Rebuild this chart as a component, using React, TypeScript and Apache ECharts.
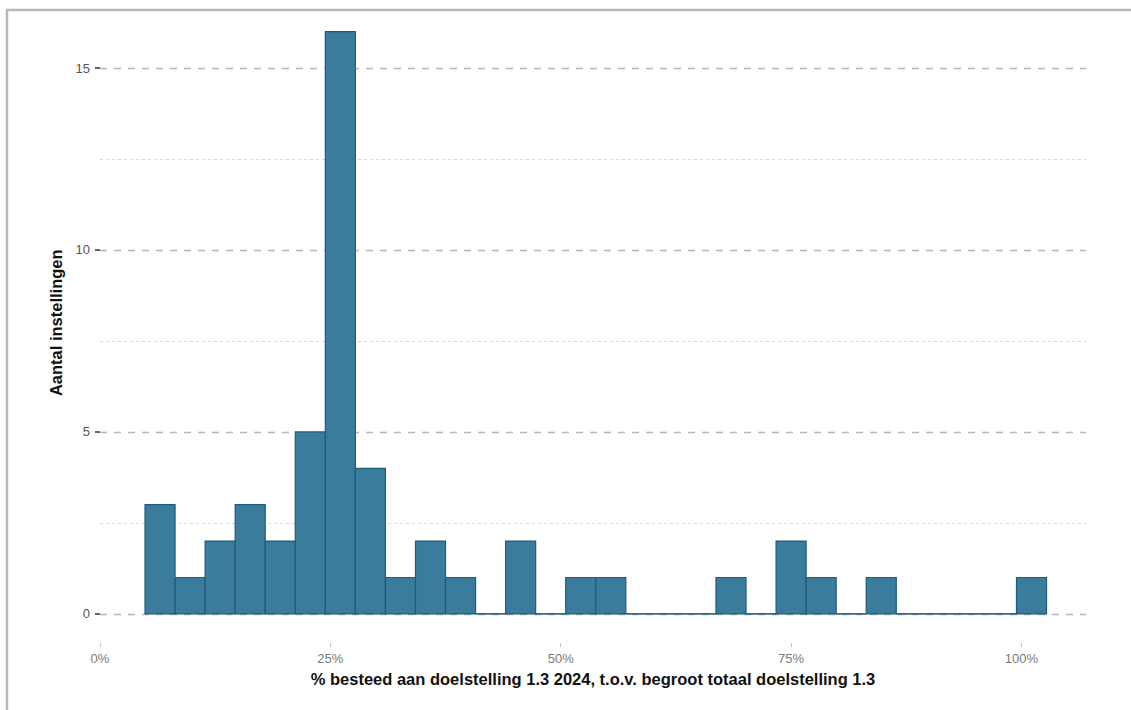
import React, { useEffect, useRef } from "react";
import * as echarts from "echarts";

// Histogram bins (percent spent), 30 bins
const binStart = 4.886;
const binWidth = 3.261;
const counts = [3, 1, 2, 3, 2, 5, 16, 4, 1, 2, 1, 0, 2, 0, 1, 1, 0, 0, 0, 1, 0, 2, 1, 0, 1, 0, 0, 0, 0, 1];
const xTicks = [0, 25, 50, 75, 100];
const yTicks = [0, 5, 10, 15];
const yMinorGrid = [2.5, 7.5, 12.5];
const xTitle = "% besteed aan doelstelling 1.3 2024, t.o.v. begroot totaal doelstelling 1.3";
const yTitle = "Aantal instellingen";

const FILL = "#3b7c9c";
const EDGE = "#1f5c7a";
const FONT = "Liberation Sans, Arial, sans-serif";

export default function App() {
  const ref = useRef<HTMLDivElement>(null);
  useEffect(() => {
    if (!ref.current) return;
    const chart = echarts.init(ref.current, undefined, { renderer: "svg" });
    const data = counts.map((c, i) => [binStart + i * binWidth, binStart + (i + 1) * binWidth, c]);
    chart.setOption({
      animation: false,
      backgroundColor: "#ffffff",
      textStyle: { fontFamily: FONT },
      grid: { left: 100, right: 45, top: 2.5, bottom: 67, containLabel: false },
      xAxis: {
        type: "value",
        min: 0,
        max: 107,
        interval: 25,
        name: xTitle,
        nameLocation: "middle",
        nameGap: 27,
        nameTextStyle: { fontFamily: FONT, fontSize: 16.5, fontWeight: "bold", color: "#111" },
        axisLine: { show: false, onZero: false },
        axisTick: { show: true, customValues: xTicks, length: 4, lineStyle: { color: "#c4c4c4", width: 1 } },
        axisLabel: {
          customValues: xTicks,
          formatter: (v: number) => `${v}%`,
          color: "#7a7a7a",
          fontSize: 13,
          margin: 9,
          fontFamily: FONT,
        },
        splitLine: { show: false },
      },
      yAxis: {
        type: "value",
        min: -0.8,
        max: 16.8,
        name: yTitle,
        nameLocation: "middle",
        nameGap: 26,
        nameTextStyle: { fontFamily: FONT, fontSize: 16.5, fontWeight: "bold", color: "#111" },
        axisLine: { show: false },
        axisTick: { show: true, customValues: yTicks, length: 5, lineStyle: { color: "#333", width: 1.5 } },
        axisLabel: { customValues: yTicks, color: "#555", fontSize: 13, margin: 10, fontFamily: FONT },
        splitLine: { show: false },
      },
      series: [
        {
          type: "line",
          data: [],
          z: 0,
          zlevel: 0,
          silent: true,
          markLine: {
            silent: true,
            symbol: "none",
            z: 0,
            label: { show: false },
            data: [
              ...yTicks.map((v) => ({ yAxis: v, lineStyle: { color: "#b5b5b5", width: 1.3, type: [7, 7] } })),
              ...yMinorGrid.map((v) => ({ yAxis: v, lineStyle: { color: "#d6d6d6", width: 1, type: [3, 3] } })),
            ],
          },
        },
        {
          type: "custom",
          z: 10,
          zlevel: 0,
          data,
          encode: { x: [0, 1], y: 2 },
          renderItem: (params: any, api: any) => {
            const x0 = api.value(0);
            const x1 = api.value(1);
            const c = api.value(2);
            const p0 = api.coord([x0, c]);
            const p1 = api.coord([x1, 0]);
            if (c === 0) {
              return {
                type: "line",
                z2: 10,
                shape: { x1: p0[0], y1: p1[1], x2: p1[0], y2: p1[1] },
                style: { stroke: EDGE, lineWidth: 1.6 },
              };
            }
            return {
              type: "rect",
              z2: 10,
              shape: { x: p0[0], y: p0[1], width: p1[0] - p0[0], height: p1[1] - p0[1] },
              style: { fill: FILL, stroke: EDGE, lineWidth: 1.2 },
            };
          },
        },
      ],
      graphic: [
        { type: "line", shape: { x1: 7, y1: 10, x2: 7, y2: 710 }, style: { stroke: "#b4b9bd", lineWidth: 2.5 }, z: 100 },
        { type: "line", shape: { x1: 6, y1: 10, x2: 1131, y2: 10 }, style: { stroke: "#b4b9bd", lineWidth: 2.5 }, z: 100 },
      ],
    });
    return () => chart.dispose();
  }, []);
  return <div ref={ref} style={{ position: "fixed", left: 0, top: 0, width: 1131, height: 710 }} />;
}
